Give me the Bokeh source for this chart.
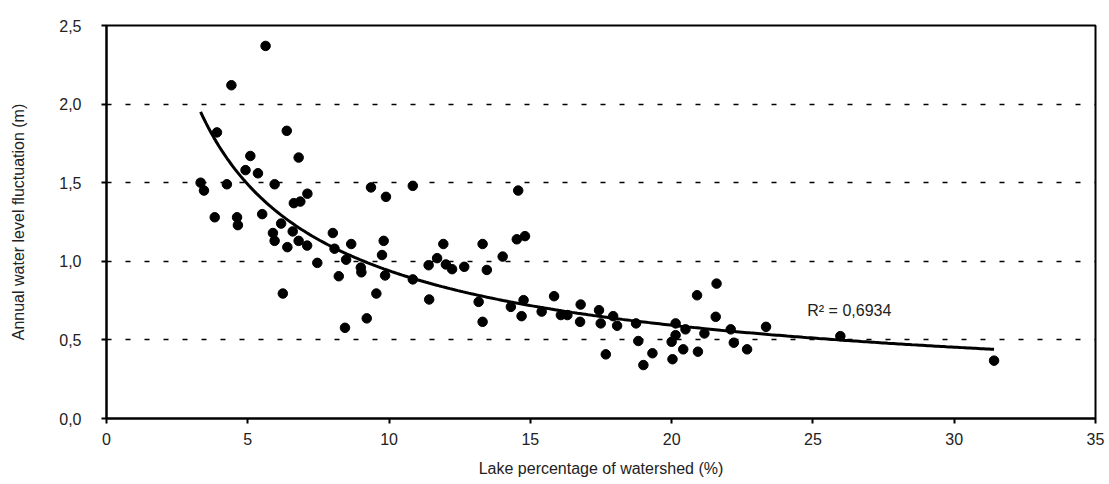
import numpy as np
from bokeh.plotting import figure
from bokeh.models import FixedTicker, Label, ColumnDataSource
from bokeh.embed import file_html
from bokeh.resources import INLINE

# Data
lake_pct = [
    5.63, 4.42, 3.91, 6.38, 5.09, 6.80, 4.92, 5.36, 3.33, 3.45,
    4.26, 5.95, 6.63, 6.86, 7.11, 9.36, 9.89, 3.83, 4.62, 4.65,
    5.51, 6.18, 5.89, 5.95, 6.59, 6.80, 7.10, 6.40, 8.01, 8.66,
    9.81, 9.75, 8.07, 7.46, 8.48, 9.00, 9.02, 9.86, 8.22, 6.24,
    9.55, 9.21, 8.44, 10.84, 14.57, 11.92, 13.31, 14.52, 14.81, 14.02,
    11.70, 11.40, 12.01, 12.23, 12.66, 13.46, 10.84, 11.42, 13.17, 13.31,
    14.31, 14.76, 14.69, 15.84, 15.40, 16.08, 16.31, 16.78, 16.76, 17.43,
    17.49, 17.93, 18.07, 18.74, 20.14, 18.82, 20.00, 20.14, 17.67, 19.32,
    20.03, 19.00, 20.49, 20.41, 20.90, 20.93, 21.16, 21.59, 21.56, 22.09,
    22.20, 22.67, 23.34, 25.97, 31.41,
]
fluctuation = [
    2.37, 2.12, 1.82, 1.83, 1.67, 1.66, 1.58, 1.56, 1.50, 1.45,
    1.49, 1.49, 1.37, 1.38, 1.43, 1.47, 1.41, 1.28, 1.28, 1.23,
    1.30, 1.24, 1.18, 1.13, 1.19, 1.13, 1.10, 1.09, 1.18, 1.11,
    1.13, 1.04, 1.08, 0.99, 1.01, 0.96, 0.93, 0.91, 0.905, 0.795,
    0.795, 0.637, 0.577, 1.48, 1.45, 1.11, 1.11, 1.14, 1.16, 1.03,
    1.02, 0.975, 0.98, 0.95, 0.965, 0.945, 0.885, 0.757, 0.742, 0.615,
    0.71, 0.753, 0.651, 0.778, 0.68, 0.658, 0.658, 0.725, 0.615, 0.689,
    0.605, 0.651, 0.59, 0.605, 0.605, 0.493, 0.488, 0.53, 0.408, 0.415,
    0.377, 0.34, 0.567, 0.44, 0.784, 0.425, 0.541, 0.858, 0.647, 0.567,
    0.482, 0.44, 0.583, 0.524, 0.368,
]
x_ticks = [0, 5, 10, 15, 20, 25, 30, 35]
y_ticks = [0.0, 0.5, 1.0, 1.5, 2.0, 2.5]
y_tick_labels = ["0,0", "0,5", "1,0", "1,5", "2,0", "2,5"]
grid_levels = [0.5, 1.0, 1.5, 2.0]
r2_text = "R\u00b2 = 0,6934"

FONT = "Liberation Sans"

p = figure(width=1105, height=482, x_range=(0, 35), y_range=(0, 2.5),
           output_backend="svg", toolbar_location=None,
           min_border_left=106, min_border_right=10, min_border_top=25,
           min_border_bottom=64)

p.outline_line_color = "black"
p.outline_line_width = 2

# grid
p.xgrid.visible = False
p.ygrid.ticker = FixedTicker(ticks=grid_levels)
p.ygrid.grid_line_color = "black"
p.ygrid.grid_line_dash = "5 14"
p.ygrid.grid_line_width = 1.3

# axes
for ax in (p.xaxis[0], p.yaxis[0]):
    ax.axis_line_color = "black"
    ax.axis_line_width = 2
    ax.major_tick_line_color = "black"
    ax.major_tick_line_width = 2
    ax.major_tick_in = 0
    ax.major_tick_out = 5
    ax.minor_tick_line_color = None
    ax.major_label_text_font = FONT
    ax.major_label_text_font_size = "16px"
    ax.major_label_text_color = "#222222"
    ax.axis_label_text_font = FONT
    ax.axis_label_text_font_style = "normal"
    ax.axis_label_text_font_size = "16px"
    ax.axis_label_text_color = "#222222"

p.xaxis.ticker = FixedTicker(ticks=x_ticks)
p.yaxis.ticker = FixedTicker(ticks=y_ticks)
p.yaxis.major_label_overrides = {t: lab for t, lab in zip(y_ticks, y_tick_labels)}
p.xaxis.axis_label = "Lake percentage of watershed (%)"
p.yaxis.axis_label = "Annual water level fluctuation (m)"
p.xaxis.major_label_standoff = 9
p.xaxis.axis_label_standoff = 12
p.yaxis.major_label_standoff = 20
p.yaxis.axis_label_standoff = 29

# points
src = ColumnDataSource(data=dict(x=lake_pct, y=fluctuation))
p.scatter("x", "y", source=src, size=9.5, marker="circle",
          fill_color="black", line_color="black")

# power trendline fitted to the data (as a spreadsheet power trendline)
lx = np.log(np.array(lake_pct))
ly = np.log(np.array(fluctuation))
b, ln_a = np.polyfit(lx, ly, 1)
xf = np.linspace(min(lake_pct), max(lake_pct), 300)
yf = np.exp(ln_a) * xf ** b
p.line(xf, yf, line_color="black", line_width=3)

p.add_layout(Label(x=24.8, y=0.69, text=r2_text, text_font=FONT,
                   text_font_size="16px", text_color="#222222",
                   text_baseline="middle", text_align="left"))

open("out.html", "w").write(file_html(p, INLINE))
